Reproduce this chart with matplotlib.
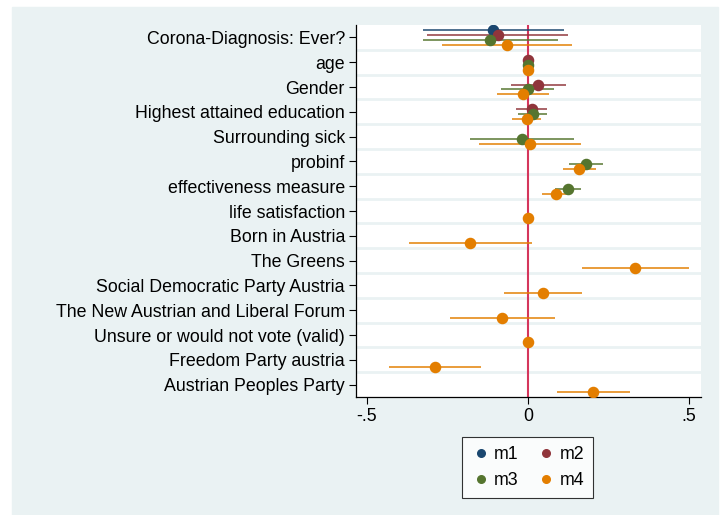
import numpy as np
import matplotlib.pyplot as plt
from matplotlib.patches import Rectangle

plt.rcParams['font.family'] = ['Liberation Sans', 'DejaVu Sans']

labels = ['Corona-Diagnosis: Ever?', 'age', 'Gender', 'Highest attained education',
          'Surrounding sick', 'probinf', 'effectiveness measure', 'life satisfaction',
          'Born in Austria', 'The Greens', 'Social Democratic Party Austria',
          'The New Austrian and Liberal Forum', 'Unsure or would not vote (valid)',
          'Freedom Party austria', 'Austrian Peoples Party']
nan = np.nan

# point estimates per model (nan = not in model)
m1 = [-0.108, nan, nan, nan, nan, nan, nan, nan, nan, nan, nan, nan, nan, nan, nan]
m2 = [-0.094, 0.001, 0.032, 0.011, nan, nan, nan, nan, nan, nan, nan, nan, nan, nan, nan]
m3 = [-0.117, 0.001, -0.001, 0.015, -0.020, 0.180, 0.123, nan, nan, nan, nan, nan, nan, nan, nan]
m4 = [-0.066, 0.000, -0.015, -0.004, 0.006, 0.158, 0.086, 0.000, -0.180, 0.332, 0.046,
      -0.081, 0.000, -0.288, 0.203]

# 95% confidence bounds
m1_lo = [-0.325, nan, nan, nan, nan, nan, nan, nan, nan, nan, nan, nan, nan, nan, nan]
m1_hi = [0.112, nan, nan, nan, nan, nan, nan, nan, nan, nan, nan, nan, nan, nan, nan]
m2_lo = [-0.313, -0.002, -0.054, -0.037, nan, nan, nan, nan, nan, nan, nan, nan, nan, nan, nan]
m2_hi = [0.124, 0.004, 0.118, 0.059, nan, nan, nan, nan, nan, nan, nan, nan, nan, nan, nan]
m3_lo = [-0.326, -0.002, -0.085, -0.030, -0.180, 0.128, 0.084, nan, nan, nan, nan, nan, nan, nan, nan]
m3_hi = [0.092, 0.004, 0.080, 0.060, 0.144, 0.234, 0.164, nan, nan, nan, nan, nan, nan, nan, nan]
m4_lo = [-0.268, -0.003, -0.095, -0.051, -0.151, 0.108, 0.043, -0.003, -0.370, 0.168,
         -0.075, -0.243, 0.000, -0.431, 0.090]
m4_hi = [0.138, 0.003, 0.066, 0.041, 0.164, 0.211, 0.128, 0.003, 0.011, 0.499,
         0.167, 0.083, 0.000, -0.145, 0.316]

models = [('m1', m1, m1_lo, m1_hi, '#1a476f', -0.3),
          ('m2', m2, m2_lo, m2_hi, '#90353b', -0.1),
          ('m3', m3, m3_lo, m3_hi, '#55752f', 0.1),
          ('m4', m4, m4_lo, m4_hi, '#e37e00', 0.3)]

bg = '#eaf2f3'
fs = 12.8
fig = plt.figure(figsize=(7.23, 5.15), dpi=100)
fig.patches.append(Rectangle((12 / 723, 0), 706 / 723, 1 - 7 / 515,
                             transform=fig.transFigure, color=bg, zorder=-10))
ax = fig.add_axes([356 / 723, 1 - 397 / 515, 345 / 723, 372 / 515])
ax.set_facecolor('white')

pos = np.arange(1, len(labels) + 1)
for k in range(len(labels) - 1):
    ax.axhline(pos[k] + 0.5, color=bg, lw=2, zorder=0)
ax.axvline(0, color='#d5365c', lw=1.5, zorder=1)

handles = []
for name, est, lo, hi, col, off in models:
    y = pos + off
    ax.hlines(y, lo, hi, color=col, lw=1.2, zorder=2, alpha=0.9)
    h, = ax.plot(est, y, 'o', color=col, ms=7.3, ls='none', zorder=3, label=name)
    handles.append(h)

ax.set_xlim(-0.534, 0.537)
ax.set_ylim(15.5, 0.5)
ax.set_yticks(pos)
ax.set_yticklabels(labels, fontsize=fs)
ax.set_xticks([-0.5, 0, 0.5])
ax.set_xticklabels(['-.5', '0', '.5'], fontsize=fs)
ax.tick_params(length=5, width=0.8, pad=3, color='black')
for s in ['top', 'right']:
    ax.spines[s].set_visible(False)
for s in ['left', 'bottom']:
    ax.spines[s].set_linewidth(0.9)

# legend fills column-wise, so reorder to get m1 m2 / m3 m4 rows
order = [handles[0], handles[2], handles[1], handles[3]]
leg = fig.legend(order, [h.get_label() for h in order], ncol=2, loc='center',
                 bbox_to_anchor=(527.5 / 723, 1 - 467.5 / 515), fontsize=fs,
                 frameon=True, fancybox=False, edgecolor='black', handletextpad=0.2,
                 columnspacing=1.0, handlelength=1.1, markerscale=0.75, borderpad=0.5,
                 labelspacing=0.5)
leg.get_frame().set_linewidth(0.8)

fig.savefig('out.png', dpi=100)
